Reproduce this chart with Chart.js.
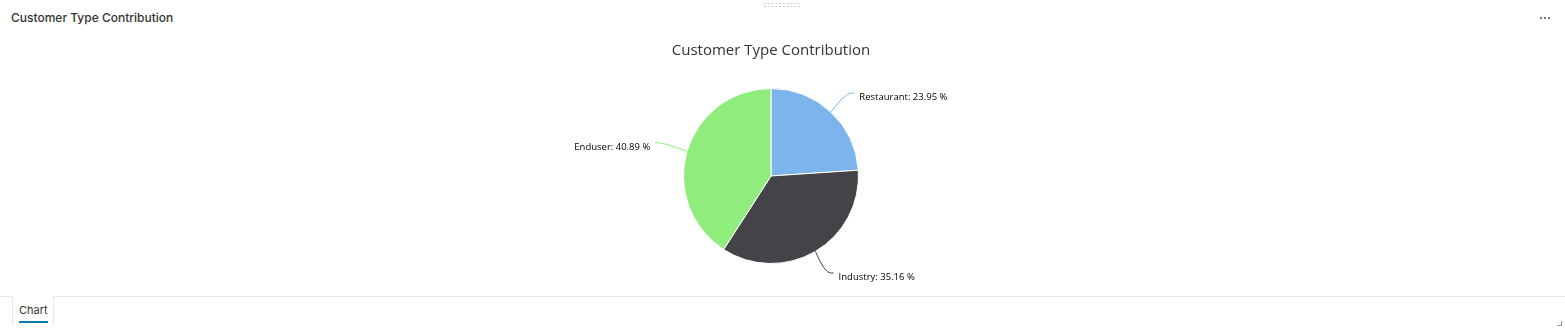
<!DOCTYPE html>
<html>
<head>
<meta charset="utf-8">
<script src="https://cdn.jsdelivr.net/npm/chart.js@4.4.1/dist/chart.umd.min.js"></script>
<style>
  html, body { margin: 0; padding: 0; background: #fff; width: 1565px; height: 331px; overflow: hidden; font-family: "Inter", "Open Sans", sans-serif; }
  #header { position: absolute; left: 11px; top: 10px; font-size: 12px; font-weight: 500; color: #333; }
  #grip { position: absolute; left: 763px; top: 2px; width: 38px; height: 6px;
    background-image: radial-gradient(circle, #c8c8c8 0.9px, transparent 1.1px); background-size: 3.8px 3px; }
  .dot { position: absolute; top: 17px; width: 2px; height: 2px; background: #777; }
  #wrap { position: absolute; left: 0; top: 30px; width: 1565px; height: 266px; }
  #bottomline { position: absolute; left: 0; top: 296px; width: 1565px; height: 1px; background: #e8e8e8; }
  #tab { position: absolute; left: 12px; top: 296px; width: 40px; height: 29px; background: #fff;
    border-left: 1px solid #e8e8e8; border-right: 1px solid #e8e8e8; }
  #tab span { position: absolute; left: 6px; top: 7px; font-size: 11px; color: #333; font-weight: 400; }
  #tab i { position: absolute; left: 6px; top: 25px; width: 29px; height: 2px; background: #0a7aa6; }
  #corner { position: absolute; left: 1557px; top: 321px; width: 4px; height: 4px;
    border-right: 1px solid #999; border-bottom: 1px solid #999; }
</style>
</head>
<body>
<div id="header">Customer Type Contribution</div>
<div id="grip"></div>
<div class="dot" style="left:1540px"></div>
<div class="dot" style="left:1544px"></div>
<div class="dot" style="left:1548px"></div>
<div id="wrap"><canvas id="c" width="1565" height="266"></canvas></div>
<div id="bottomline"></div>
<div id="tab"><span>Chart</span><i></i></div>
<div id="corner"></div>
<script>
const categories = ["Restaurant", "Industry", "Enduser"];
const shares = [23.95, 35.16, 40.89];
const colors = ["#7cb5ec", "#434348", "#90ed7d"];

const labelPlugin = {
  id: 'pieLabels',
  afterDatasetsDraw(chart) {
    const ctx = chart.ctx;
    const meta = chart.getDatasetMeta(0);
    const area = chart.chartArea;
    ctx.save();
    ctx.font = '9.5px "Open Sans", sans-serif';
    ctx.textBaseline = 'middle';
    meta.data.forEach((arc, i) => {
      const p = arc.getProps(['x', 'y', 'startAngle', 'endAngle', 'outerRadius'], true);
      const mid = (p.startAngle + p.endAngle) / 2;
      const r = p.outerRadius;
      const ex = p.x + Math.cos(mid) * r;
      const ey = p.y + Math.sin(mid) * r;
      let ax = p.x + Math.cos(mid) * (r + 30);
      let ay = p.y + Math.sin(mid) * (r + 30);
      ay = Math.max(Math.min(ay, area.bottom + 9), area.top + 5);
      const right = Math.cos(mid) >= 0;
      const dir = right ? 1 : -1;
      ctx.strokeStyle = colors[i];
      ctx.lineWidth = 1;
      ctx.beginPath();
      ctx.moveTo(ex, ey);
      ctx.quadraticCurveTo(ax - dir * 6, ay, ax, ay);
      ctx.lineTo(ax + dir * 3, ay);
      ctx.stroke();
      ctx.fillStyle = '#000';
      ctx.textAlign = right ? 'left' : 'right';
      const text = categories[i] + ': ' + shares[i].toFixed(2) + ' %';
      ctx.fillText(text, ax + dir * 8, ay + 4.5);
    });
    ctx.restore();
  }
};

new Chart(document.getElementById('c'), {
  type: 'pie',
  data: {
    labels: categories,
    datasets: [{
      data: shares,
      backgroundColor: colors,
      borderColor: '#ffffff',
      borderWidth: 1,
      hoverOffset: 0
    }]
  },
  options: {
    responsive: false,
    animation: false,
    layout: { padding: { left: 0, right: 23, top: 0, bottom: 32 } },
    plugins: {
      legend: { display: false },
      tooltip: { enabled: false },
      title: {
        display: true,
        text: 'Customer Type Contribution',
        color: '#333333',
        font: { family: '"Open Sans", sans-serif', size: 15, weight: 'normal' },
        padding: { top: 12, bottom: 28 }
      }
    }
  },
  plugins: [labelPlugin]
});
</script>
</body>
</html>
